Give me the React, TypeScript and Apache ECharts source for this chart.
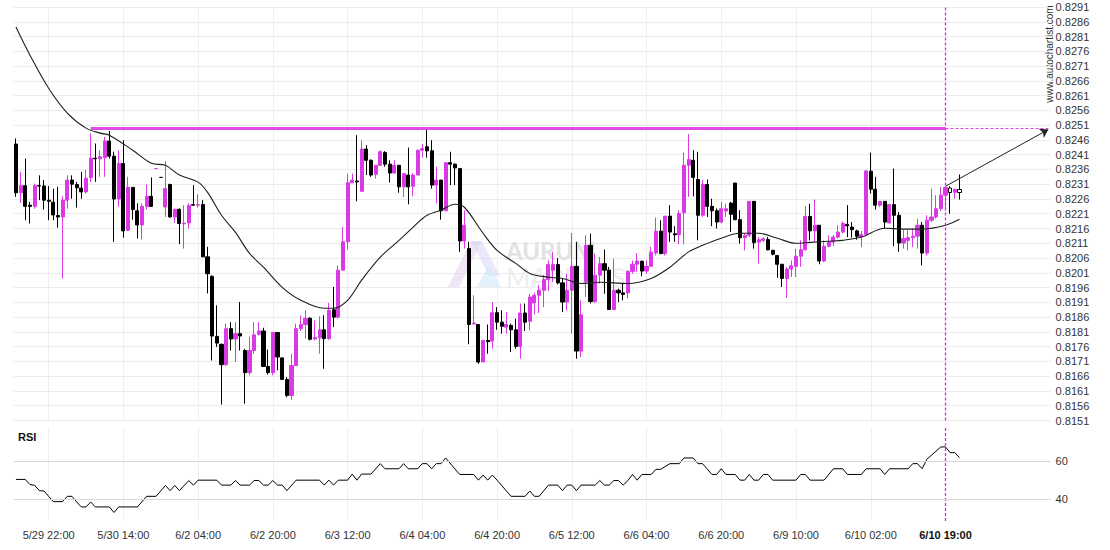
import React, { useEffect, useRef } from 'react';
import * as echarts from 'echarts';

// ---------- axis ticks ----------
const slotCount = 222; // hourly slots incl. empty projection area on the right
const tickIndex = [7, 23, 39, 55, 71, 87, 103, 119, 135, 151, 167, 183, 199];
const tickLabels = ['5/29 22:00', '5/30 14:00', '6/2 04:00', '6/2 20:00', '6/3 12:00', '6/4 04:00', '6/4 20:00', '6/5 12:00', '6/6 04:00', '6/6 20:00', '6/9 10:00', '6/10 02:00', '6/10 19:00'];
const boldTickIndex = 199;
const priceMin = 0.8151;
const priceMax = 0.8291;
const priceStep = 0.0005;
const rsiMin = 28.4;
const rsiMax = 77.9;

// ---------- candles (hourly OHLC) ----------
const open = [
  0.82446, 0.82281, 0.82305, 0.82239, 0.82235, 0.82305, 0.82304, 0.82256, 0.82249, 0.82204,
  0.82199, 0.82256, 0.82324, 0.82309, 0.82297, 0.82284, 0.82333, 0.82398, 0.82396, 0.82400,
  0.82456, 0.82405, 0.82260, 0.82380, 0.82154, 0.82299, 0.82220, 0.82172, 0.82235, 0.82269,
  0.82363, 0.82333, 0.82233, 0.82309, 0.82199, 0.82225, 0.82176, 0.82179, 0.82241, 0.82239,
  0.82241, 0.82064, 0.81998, 0.81795, 0.81768, 0.81699, 0.81821, 0.81786, 0.81804, 0.81747,
  0.81672, 0.81747, 0.81802, 0.81813, 0.81693, 0.81672, 0.81808, 0.81722, 0.81649, 0.81595,
  0.81696, 0.81821, 0.81835, 0.81856, 0.81786, 0.81790, 0.81817, 0.81787, 0.81885, 0.81860,
  0.82019, 0.82115, 0.82315, 0.82321, 0.82286, 0.82429, 0.82391, 0.82344, 0.82374, 0.82417,
  0.82378, 0.82348, 0.82374, 0.82301, 0.82341, 0.82303, 0.82341, 0.82425, 0.82437, 0.82423,
  0.82307, 0.82324, 0.82220, 0.82383, 0.82378, 0.82363, 0.82118, 0.82092, 0.81837, 0.81835,
  0.81708, 0.81781, 0.81779, 0.81875, 0.81843, 0.81826, 0.81832, 0.81817, 0.81761, 0.81874,
  0.81846, 0.81908, 0.81934, 0.81951, 0.81987, 0.82019, 0.82038, 0.81976, 0.81911, 0.81951,
  0.82032, 0.81745, 0.81981, 0.82103, 0.81913, 0.82002, 0.82041, 0.82019, 0.81886, 0.81951,
  0.81942, 0.81942, 0.82015, 0.82039, 0.82049, 0.82016, 0.82032, 0.82077, 0.82151, 0.82075,
  0.82202, 0.82142, 0.82139, 0.82213, 0.82374, 0.82391, 0.82326, 0.82205, 0.82309, 0.82235,
  0.82220, 0.82182, 0.82219, 0.82246, 0.82314, 0.82190, 0.82129, 0.82137, 0.82252, 0.82114,
  0.82120, 0.82123, 0.82086, 0.82069, 0.82039, 0.81991, 0.82023, 0.82032, 0.82066, 0.82088,
  0.82201, 0.82152, 0.82171, 0.82050, 0.82100, 0.82114, 0.82131, 0.82148, 0.82174, 0.82165,
  0.82152, 0.82131, 0.82140, 0.82354, 0.82293, 0.82239, 0.82252, 0.82179, 0.82241, 0.82205,
  0.82111, 0.82120, 0.82129, 0.82134, 0.82171, 0.82077, 0.82188, 0.82199, 0.82227, 0.82273,
  0.82297, 0.82283, 0.82292,
];
const close = [
  0.82281, 0.82305, 0.82235, 0.82235, 0.82305, 0.82304, 0.82256, 0.82252, 0.82206, 0.82199,
  0.82256, 0.82324, 0.82310, 0.82298, 0.82284, 0.82330, 0.82398, 0.82396, 0.82403, 0.82456,
  0.82405, 0.82260, 0.82380, 0.82152, 0.82300, 0.82224, 0.82172, 0.82235, 0.82269, 0.82235,
  0.82363, 0.82333, 0.82295, 0.82199, 0.82224, 0.82177, 0.82178, 0.82238, 0.82239, 0.82241,
  0.82064, 0.82007, 0.81796, 0.81772, 0.81699, 0.81821, 0.81786, 0.81804, 0.81796, 0.81672,
  0.81747, 0.81800, 0.81813, 0.81693, 0.81672, 0.81808, 0.81725, 0.81649, 0.81595, 0.81696,
  0.81821, 0.81835, 0.81856, 0.81785, 0.81791, 0.81817, 0.81787, 0.81883, 0.81860, 0.82019,
  0.82115, 0.82315, 0.82324, 0.82318, 0.82429, 0.82391, 0.82341, 0.82374, 0.82420, 0.82378,
  0.82348, 0.82374, 0.82301, 0.82346, 0.82301, 0.82341, 0.82425, 0.82431, 0.82423, 0.82307,
  0.82324, 0.82220, 0.82383, 0.82378, 0.82365, 0.82118, 0.82171, 0.81835, 0.81840, 0.81708,
  0.81781, 0.81777, 0.81875, 0.81843, 0.81829, 0.81835, 0.81817, 0.81761, 0.81874, 0.81843,
  0.81928, 0.81934, 0.81951, 0.81987, 0.82038, 0.82038, 0.81976, 0.81911, 0.81951, 0.82032,
  0.81745, 0.81868, 0.82103, 0.81913, 0.82002, 0.82041, 0.82019, 0.81886, 0.81951, 0.81942,
  0.81937, 0.82015, 0.82039, 0.82050, 0.82016, 0.82032, 0.82080, 0.82151, 0.82075, 0.82202,
  0.82148, 0.82139, 0.82211, 0.82374, 0.82394, 0.82333, 0.82205, 0.82309, 0.82235, 0.82220,
  0.82182, 0.82227, 0.82227, 0.82208, 0.82190, 0.82129, 0.82137, 0.82252, 0.82112, 0.82122,
  0.82125, 0.82088, 0.82073, 0.82039, 0.81991, 0.82023, 0.82034, 0.82066, 0.82088, 0.82201,
  0.82152, 0.82171, 0.82050, 0.82100, 0.82114, 0.82131, 0.82148, 0.82177, 0.82169, 0.82156,
  0.82134, 0.82140, 0.82355, 0.82293, 0.82239, 0.82252, 0.82182, 0.82241, 0.82205, 0.82111,
  0.82126, 0.82129, 0.82134, 0.82171, 0.82077, 0.82188, 0.82199, 0.82227, 0.82273, 0.82299,
  0.82282, 0.82292, 0.82282,
];
const high = [
  0.82465, 0.82352, 0.82397, 0.82250, 0.82312, 0.82340, 0.82324, 0.82304, 0.82295, 0.82301,
  0.82269, 0.82340, 0.82340, 0.82318, 0.82352, 0.82358, 0.82482, 0.82448, 0.82425, 0.82470,
  0.82490, 0.82420, 0.82425, 0.82459, 0.82335, 0.82301, 0.82245, 0.82245, 0.82309, 0.82333,
  0.82363, 0.82333, 0.82388, 0.82312, 0.82228, 0.82228, 0.82239, 0.82245, 0.82307, 0.82276,
  0.82256, 0.82098, 0.82002, 0.81900, 0.81770, 0.81838, 0.81843, 0.81843, 0.81911, 0.81753,
  0.81793, 0.81843, 0.81843, 0.81824, 0.81750, 0.81808, 0.81808, 0.81722, 0.81657, 0.81736,
  0.81838, 0.81866, 0.81883, 0.81860, 0.81849, 0.81863, 0.81866, 0.81908, 0.81962, 0.82035,
  0.82165, 0.82346, 0.82346, 0.82476, 0.82459, 0.82442, 0.82394, 0.82374, 0.82425, 0.82422,
  0.82391, 0.82391, 0.82374, 0.82348, 0.82434, 0.82346, 0.82428, 0.82446, 0.82495, 0.82459,
  0.82369, 0.82324, 0.82383, 0.82420, 0.82380, 0.82363, 0.82222, 0.82115, 0.81934, 0.81835,
  0.81783, 0.81835, 0.81911, 0.81894, 0.81883, 0.81877, 0.81838, 0.81855, 0.81906, 0.81906,
  0.81939, 0.81942, 0.81968, 0.82002, 0.82052, 0.82081, 0.82060, 0.81990, 0.82007, 0.82145,
  0.82115, 0.81917, 0.82137, 0.82143, 0.82075, 0.82064, 0.82089, 0.82030, 0.82058, 0.81956,
  0.81973, 0.82019, 0.82052, 0.82077, 0.82052, 0.82052, 0.82098, 0.82197, 0.82188, 0.82202,
  0.82239, 0.82168, 0.82222, 0.82417, 0.82480, 0.82425, 0.82420, 0.82324, 0.82326, 0.82261,
  0.82228, 0.82250, 0.82244, 0.82250, 0.82314, 0.82222, 0.82143, 0.82252, 0.82252, 0.82131,
  0.82131, 0.82131, 0.82088, 0.82069, 0.82039, 0.82030, 0.82052, 0.82092, 0.82120, 0.82235,
  0.82244, 0.82258, 0.82171, 0.82120, 0.82137, 0.82139, 0.82171, 0.82184, 0.82239, 0.82182,
  0.82156, 0.82152, 0.82357, 0.82417, 0.82335, 0.82252, 0.82252, 0.82244, 0.82363, 0.82216,
  0.82156, 0.82154, 0.82160, 0.82193, 0.82182, 0.82205, 0.82295, 0.82273, 0.82301, 0.82301,
  0.82303, 0.82295, 0.82343,
];
const low = [
  0.82267, 0.82247, 0.82188, 0.82177, 0.82227, 0.82256, 0.82224, 0.82188, 0.82188, 0.82163,
  0.81990, 0.82227, 0.82261, 0.82231, 0.82261, 0.82278, 0.82318, 0.82318, 0.82335, 0.82335,
  0.82397, 0.82115, 0.82233, 0.82129, 0.82154, 0.82190, 0.82126, 0.82122, 0.82224, 0.82233,
  0.82363, 0.82333, 0.82199, 0.82197, 0.82179, 0.82107, 0.82092, 0.82160, 0.82238, 0.82231,
  0.82064, 0.81940, 0.81713, 0.81759, 0.81564, 0.81694, 0.81747, 0.81708, 0.81747, 0.81567,
  0.81663, 0.81736, 0.81798, 0.81691, 0.81666, 0.81663, 0.81680, 0.81649, 0.81589, 0.81580,
  0.81696, 0.81813, 0.81787, 0.81781, 0.81781, 0.81736, 0.81685, 0.81783, 0.81826, 0.81855,
  0.82019, 0.82089, 0.82315, 0.82252, 0.82286, 0.82341, 0.82335, 0.82329, 0.82374, 0.82369,
  0.82316, 0.82346, 0.82281, 0.82267, 0.82242, 0.82269, 0.82341, 0.82400, 0.82400, 0.82295,
  0.82245, 0.82190, 0.82220, 0.82307, 0.82307, 0.82081, 0.82092, 0.81768, 0.81835, 0.81702,
  0.81708, 0.81736, 0.81753, 0.81817, 0.81804, 0.81804, 0.81742, 0.81753, 0.81719, 0.81813,
  0.81815, 0.81869, 0.81874, 0.81894, 0.81948, 0.81979, 0.81971, 0.81877, 0.81883, 0.81804,
  0.81719, 0.81725, 0.81928, 0.81906, 0.81908, 0.81973, 0.81939, 0.81885, 0.81885, 0.81911,
  0.81917, 0.81923, 0.82007, 0.82013, 0.81998, 0.82007, 0.82030, 0.82069, 0.82075, 0.82069,
  0.82115, 0.82115, 0.82107, 0.82107, 0.82267, 0.82269, 0.82120, 0.82199, 0.82199, 0.82168,
  0.82160, 0.82177, 0.82199, 0.82148, 0.82188, 0.82109, 0.82086, 0.82131, 0.82092, 0.82041,
  0.82114, 0.82086, 0.82069, 0.81993, 0.81962, 0.81925, 0.81996, 0.81996, 0.82030, 0.82086,
  0.82120, 0.82114, 0.82039, 0.82047, 0.82097, 0.82100, 0.82126, 0.82143, 0.82131, 0.82129,
  0.82122, 0.82097, 0.82140, 0.82278, 0.82224, 0.82233, 0.82160, 0.82177, 0.82100, 0.82081,
  0.82092, 0.82086, 0.82097, 0.82092, 0.82035, 0.82069, 0.82182, 0.82193, 0.82219, 0.82224,
  0.82210, 0.82261, 0.82258,
];
const hollowCandles = [200, 202];
const flatUpCandles = [30];
const flatDownCandles = [31];

// ---------- moving average (slot index, value) ----------
const maPoints = [
  [0, 0.82842], [3, 0.82747], [7, 0.82635], [11, 0.82551], [15, 0.825], [18, 0.82483], [20, 0.82476],
  [25, 0.82425], [29, 0.82381], [32, 0.82374], [35, 0.82341], [39, 0.82317], [41, 0.82283], [44, 0.82205],
  [47, 0.82147], [50, 0.82076], [53, 0.82029], [57, 0.81961], [61, 0.81917], [66, 0.8189], [68, 0.8189],
  [71, 0.81917], [74, 0.81985], [78, 0.82063], [82, 0.8212], [85, 0.82164], [88, 0.82205], [91, 0.82222],
  [94, 0.82242], [96, 0.82232], [100, 0.82144], [103, 0.82086], [107, 0.82042], [110, 0.82008], [114, 0.81995],
  [117, 0.81991], [121, 0.81974], [125, 0.81978], [131, 0.81974], [136, 0.81991], [140, 0.82029], [144, 0.82081],
  [147, 0.82103], [151, 0.82127], [155, 0.82144], [159, 0.82144], [163, 0.82127], [167, 0.8211], [170, 0.82113],
  [174, 0.82117], [177, 0.8212], [181, 0.82131], [186, 0.82161], [190, 0.82158], [194, 0.82158], [199, 0.82171],
  [202, 0.82191],
];

// ---------- RSI (slot index, value) ----------
const rsiPoints = [
  [0, 50.3], [2, 50.3], [3, 47.6], [4, 47.2], [5, 44.4], [6, 44.2], [7, 41.4], [8, 38.6], [10, 38.6], [11, 41.4],
  [12, 41.4], [13, 38.4], [14, 35.8], [15, 35.8], [16, 38.4], [17, 35.8], [20, 35.8], [21, 32.9], [22, 35.8], [26, 35.8],
  [28, 41.4], [30, 41.4], [32, 47.1], [33, 44.4], [34, 47.1], [35, 44.4], [37, 49.7], [38, 47.3], [39, 49.9], [43, 49.9],
  [44, 47.3], [46, 47.3], [47, 49.7], [48, 47.3], [50, 47.3], [51, 49.7], [52, 49.7], [53, 47.3], [54, 47.3], [55, 49.7],
  [56, 47.3], [57, 47.3], [58, 44.4], [60, 49.9], [65, 49.9], [66, 47.3], [67, 49.9], [68, 47.3], [69, 49.9], [71, 49.9],
  [72, 53.1], [73, 49.9], [74, 53.1], [76, 53.1], [78, 58.6], [79, 55.9], [82, 55.9], [83, 58.6], [84, 55.9], [86, 55.9],
  [87, 58.6], [88, 58.6], [89, 55.9], [90, 58.6], [91, 58.6], [92, 61.6], [95, 52.9], [98, 52.9], [99, 49.9], [100, 52.6],
  [101, 49.9], [102, 52.6], [103, 49.9], [106, 41.4], [109, 41.4], [110, 44.2], [111, 41.4], [112, 41.4], [114, 47.3], [116, 47.3],
  [117, 44.4], [118, 47.3], [119, 47.3], [120, 44.4], [121, 47.3], [124, 47.3], [125, 49.7], [126, 47.3], [127, 47.3], [128, 49.7],
  [129, 49.7], [130, 47.3], [131, 49.7], [132, 52.9], [133, 49.9], [134, 52.9], [136, 52.9], [137, 55.6], [138, 55.6], [140, 58.6],
  [142, 58.6], [143, 61.6], [145, 61.6], [146, 58.6], [147, 58.6], [149, 52.9], [150, 52.9], [151, 55.9], [152, 52.9], [154, 52.9],
  [155, 49.9], [156, 49.9], [157, 52.9], [158, 49.9], [159, 49.9], [160, 52.9], [161, 52.9], [162, 49.9], [167, 49.9], [168, 52.9],
  [169, 52.9], [170, 49.9], [173, 49.9], [175, 55.9], [177, 55.9], [178, 52.9], [181, 52.9], [182, 55.9], [185, 55.9], [186, 52.9],
  [187, 55.9], [191, 55.9], [192, 58.6], [193, 58.6], [194, 55.9], [195, 60.9], [198, 67.4], [199, 67.4], [200, 64.4], [201, 64.4],
  [202, 61.8],
];
const rsiLevels = [60, 40];

// ---------- pattern ----------
const resistanceLevel = 0.825;
const resistanceStart = 16;
const patternEnd = 199;
const projectionEnd = 221;
const forecastFrom = 0.82303;
const forecastTo = 0.82495;

const FONT = '"Liberation Sans", Arial, sans-serif';
const PINK = '#da3ae6';
const MAGENTA = '#e040e8';
const MARKER = '#f01cf0';

function buildOption() {
  const categories = Array.from({ length: slotCount }, (_, i) => {
    const k = tickIndex.indexOf(i);
    return k >= 0 ? tickLabels[k] : '#' + i;
  });
  const isTick = (index: number) => tickIndex.indexOf(index) >= 0;

  const candleData = open.map((o, i) => {
    const value = [o, close[i], low[i], high[i]];
    if (hollowCandles.includes(i)) {
      return { value, itemStyle: { color: '#ffffff', color0: '#ffffff', borderColor: '#000', borderColor0: '#000', borderColorDoji: '#000' } };
    }
    if (flatUpCandles.includes(i)) {
      return { value, itemStyle: { color: PINK, color0: PINK, borderColor: PINK, borderColor0: PINK, borderColorDoji: PINK } };
    }
    if (flatDownCandles.includes(i)) {
      return { value, itemStyle: { color: '#000', color0: '#000', borderColor: '#000', borderColor0: '#000', borderColorDoji: '#000' } };
    }
    return value;
  });

  const vSplit = {
    show: true,
    interval: (index: number) => isTick(index) && index !== patternEnd,
    alignWithLabel: true,
    lineStyle: { color: '#efefef', width: 1 },
  };

  const gridLeft = 13.6;
  const gridRight = 59.4;

  const markerLine = (xi: number, yi: number, from: number, to: number) => ({
    type: 'line', xAxisIndex: xi, yAxisIndex: yi, z: 4, silent: true,
    data: [[patternEnd, from], [patternEnd, to]],
    showSymbol: false, symbol: 'none', clip: false,
    itemStyle: { color: MARKER },
    lineStyle: { color: MARKER, width: 1.3, type: [3, 2], opacity: 1 },
  });

  return {
    animation: false,
    backgroundColor: '#ffffff',
    textStyle: { fontFamily: FONT },
    grid: [
      { left: gridLeft, right: gridRight, top: 7, height: 413.5 },
      { left: gridLeft, right: gridRight, top: 427, height: 94 },
    ],
    xAxis: [
      {
        type: 'category', gridIndex: 0, data: categories, boundaryGap: true,
        axisLine: { show: false }, axisTick: { show: false }, axisLabel: { show: false },
        splitLine: vSplit,
      },
      {
        type: 'category', gridIndex: 1, data: categories, boundaryGap: true,
        axisLine: { show: false }, axisTick: { show: false },
        axisLabel: {
          show: true,
          interval: (index: number) => isTick(index),
          formatter: (value: string, index: number) => (index === boldTickIndex ? '{b|' + value + '}' : value),
          color: '#333', fontSize: 11, fontFamily: FONT, margin: 8,
          rich: { b: { fontWeight: 'bold', color: '#111', fontSize: 11, fontFamily: FONT } },
        },
        splitLine: vSplit,
      },
    ],
    yAxis: [
      {
        type: 'value', gridIndex: 0, position: 'right', min: priceMin, max: priceMax, interval: priceStep,
        axisLine: { show: false }, axisTick: { show: false },
        axisLabel: {
          formatter: (v: number) => v.toFixed(4), color: '#333', fontSize: 11, fontFamily: FONT, margin: 5,
          showMinLabel: true, showMaxLabel: true,
        },
        splitLine: { show: true, lineStyle: { color: '#ececec', width: 1 } },
      },
      { type: 'value', gridIndex: 1, min: rsiMin, max: rsiMax, show: false },
    ],
    graphic: [
      { type: 'polygon', z: 1, shape: { points: [[448, 287], [459, 287], [482, 241], [471, 241]] }, style: { fill: 'rgba(226,205,242,0.55)' } },
      { type: 'polygon', z: 1, shape: { points: [[471, 241], [482, 241], [500, 276], [489, 276]] }, style: { fill: 'rgba(214,212,246,0.5)' } },
      { type: 'polygon', z: 1, shape: { points: [[477, 287], [501, 287], [489, 264]] }, style: { fill: 'rgba(210,234,250,0.6)' } },
      { type: 'text', z: 1, x: 506, y: 250, style: { text: 'AURUM', fill: '#e2e2e2', fontSize: 24, fontWeight: 'bold', fontFamily: 'Lato, sans-serif', verticalAlign: 'middle' } },
      { type: 'text', z: 1, x: 506, y: 278, style: { text: 'MARKETS', fill: '#ededed', fontSize: 26, fontWeight: 'normal', fontFamily: 'Lato, sans-serif', verticalAlign: 'middle' } },
      { type: 'text', x: 18, y: 437, style: { text: 'RSI', fill: '#111', fontSize: 11, fontWeight: 'bold', fontFamily: FONT, verticalAlign: 'middle' } },
      { type: 'text', x: 1049, y: 54, rotation: Math.PI / 2, style: { text: 'www.autochartist.com', fill: '#333', fontSize: 10, fontFamily: FONT, align: 'center', verticalAlign: 'middle' } },
    ],
    series: [
      {
        type: 'candlestick', name: 'price', xAxisIndex: 0, yAxisIndex: 0, z: 2,
        data: candleData,
        barWidth: 3.6,
        itemStyle: { color: PINK, color0: '#000', borderColor: PINK, borderColor0: '#000', borderWidth: 1 },
        markLine: {
          silent: true, animation: false, symbol: ['none', 'none'],
          label: { show: false },
          data: [
            [
              { coord: [resistanceStart, resistanceLevel], lineStyle: { color: MAGENTA, width: 3, type: 'solid', opacity: 0.95 } },
              { coord: [patternEnd, resistanceLevel] },
            ],
            [
              { coord: [patternEnd, resistanceLevel], lineStyle: { color: MAGENTA, width: 1, type: [3, 2] } },
              { coord: [projectionEnd, resistanceLevel] },
            ],
            [
              { coord: [patternEnd, forecastFrom], lineStyle: { color: '#222', width: 1, type: 'solid' }, symbol: 'none' },
              { coord: [projectionEnd, forecastTo], symbol: 'arrow', symbolSize: 8 },
            ],
          ],
        },
      },
      {
        type: 'line', name: 'MA', xAxisIndex: 0, yAxisIndex: 0, z: 3,
        data: maPoints, smooth: 0.35, showSymbol: false, symbol: 'none',
        lineStyle: { color: '#1e1e1e', width: 1.1 },
      },
      {
        type: 'line', name: 'RSI', xAxisIndex: 1, yAxisIndex: 1, z: 3,
        data: rsiPoints, showSymbol: false, symbol: 'none',
        lineStyle: { color: '#000', width: 1 },
        markLine: {
          silent: true, animation: false, symbol: ['none', 'none'],
          data: rsiLevels.map((lv) => ({
            yAxis: lv,
            lineStyle: { color: '#d8d8d8', width: 1, type: 'solid' },
            label: { show: true, position: 'end', formatter: String(lv), color: '#333', fontSize: 11, fontFamily: FONT, distance: 5 },
          })),
        },
      },
      markerLine(0, 0, priceMin, priceMax),
      markerLine(1, 1, rsiMin, rsiMax),
    ],
  };
}

export default function App() {
  const ref = useRef<HTMLDivElement>(null);
  useEffect(() => {
    if (!ref.current) return;
    const chart = echarts.init(ref.current, undefined, { renderer: 'svg' });
    chart.setOption(buildOption() as any);
    return () => chart.dispose();
  }, []);
  return (
    <div
      ref={ref}
      style={{ position: 'fixed', left: 0, top: 0, width: 1110, height: 550, background: '#fff' }}
    />
  );
}
